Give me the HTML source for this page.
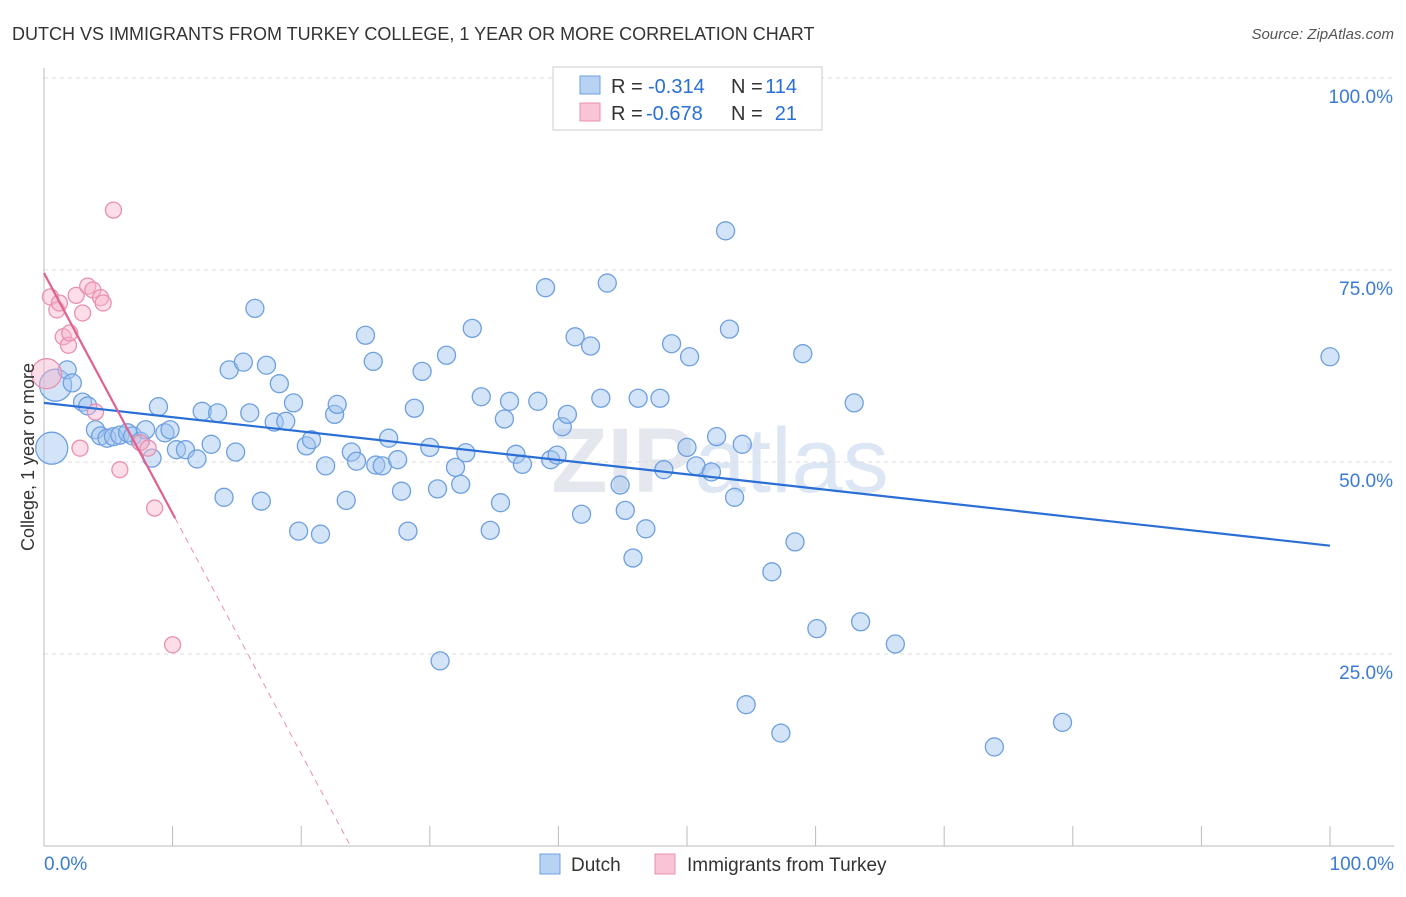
<!DOCTYPE html>
<html><head><meta charset="utf-8">
<style>
body{margin:0;background:#fff;font-family:"Liberation Sans",sans-serif;}
svg text{font-family:"Liberation Sans",sans-serif;}
</style></head>
<body>
<svg id="c" width="1406" height="892" viewBox="0 0 1406 892">
<text x="12" y="40" font-size="18" fill="#333">DUTCH VS IMMIGRANTS FROM TURKEY COLLEGE, 1 YEAR OR MORE CORRELATION CHART</text>
<text x="1394" y="39" font-size="15" fill="#555" font-style="italic" text-anchor="end">Source: ZipAtlas.com</text>
<text x="720" y="492" font-size="92" fill="#e4e8ee" text-anchor="middle" font-weight="bold">ZIP<tspan font-weight="normal" fill="#dce6f4">atlas</tspan></text>
<g id="grid"></g>
<g id="axes"></g>
<g id="marks"></g>
<text transform="translate(34,457) rotate(-90)" font-size="18" fill="#333" text-anchor="middle">College, 1 year or more</text>
<g>
<rect x="553" y="67" width="269" height="63" fill="#fff" stroke="#ccc"/>
<rect x="580" y="76" width="20" height="18" fill="#b8d2f4" stroke="#6ea0e0"/>
<rect x="580" y="103" width="20" height="18" fill="#f8c4d6" stroke="#e890b0"/>
<text x="611" y="93" font-size="20" fill="#333">R =</text>
<text x="648" y="93" font-size="20" fill="#2a6fd6">-0.314</text>
<text x="731" y="93" font-size="20" fill="#333">N =</text>
<text x="797" y="93" font-size="20" fill="#2a6fd6" text-anchor="end">114</text>
<text x="611" y="120" font-size="20" fill="#333">R =</text>
<text x="646" y="120" font-size="20" fill="#2a6fd6">-0.678</text>
<text x="731" y="120" font-size="20" fill="#333">N =</text>
<text x="797" y="120" font-size="20" fill="#2a6fd6" text-anchor="end">21</text>
</g>
<g>
<rect x="540" y="854" width="20" height="20" fill="#b8d2f4" stroke="#6ea0e0"/>
<text x="571" y="871" font-size="19" fill="#333">Dutch</text>
<rect x="655" y="854" width="20" height="20" fill="#f8c4d6" stroke="#e890b0"/>
<text x="687" y="871" font-size="19" fill="#333">Immigrants from Turkey</text>
</g>
</svg>
<script>
const yTicks=[25,50,75,100];
const yTickLabels=["25.0%","50.0%","75.0%","100.0%"];
const xTicks=[0,10,20,30,40,50,60,70,80,90,100];
const xTickLabels=["0.0%","100.0%"];
const dutchX=[0.6,0.9,1.8,2.2,3.0,3.4,4.0,4.4,4.9,5.4,5.9,6.5,6.9,7.5,7.9,8.4,8.9,9.4,9.8,10.3,11.0,11.9,12.3,13.0,13.5,14.0,14.4,14.9,15.5,16.0,16.4,16.9,17.3,17.9,18.3,18.8,19.4,19.8,20.4,20.8,21.5,21.9,22.6,22.8,23.5,23.9,24.3,25.0,25.6,25.8,26.3,26.8,27.5,27.8,28.3,28.8,29.4,30.0,30.6,30.8,31.3,32.0,32.4,32.8,33.3,34.0,34.7,35.5,35.8,36.2,36.7,37.2,38.4,39.0,39.4,39.9,40.3,40.7,41.3,41.8,42.5,43.3,43.8,44.8,45.2,45.8,46.2,46.8,47.9,48.2,48.8,50.0,50.2,50.7,51.9,52.3,53.0,53.3,53.7,54.3,54.6,56.6,57.3,58.4,59.0,60.1,63.0,63.5,66.2,73.9,79.2,100];
const dutchY=[51.8,60.0,62.0,60.3,57.8,57.3,54.2,53.4,53.1,53.3,53.5,53.8,53.4,52.7,54.2,50.5,57.2,53.8,54.2,51.6,51.6,50.4,56.6,52.3,56.4,45.4,62.0,51.3,63.0,56.4,70.0,44.9,62.6,55.2,60.2,55.3,57.7,41.0,52.1,52.9,40.6,49.5,56.2,57.5,45.0,51.3,50.1,66.5,63.1,49.6,49.5,53.1,50.3,46.2,41.0,57.0,61.8,51.9,46.5,24.1,63.9,49.3,47.1,51.2,67.4,58.5,41.1,44.7,55.6,57.9,51.0,49.7,57.9,72.7,50.3,50.9,54.6,56.2,66.3,43.2,65.1,58.3,73.3,47.0,43.7,37.5,58.3,41.3,58.3,49.0,65.4,51.9,63.7,49.5,48.7,53.3,80.1,67.3,45.4,52.3,18.4,35.7,14.7,39.6,64.1,28.3,57.7,29.2,26.3,12.9,16.1,63.7];
const turkeyX=[0.2,0.5,1.0,1.2,1.5,1.9,2.0,2.5,2.8,3.0,3.4,3.8,4.0,4.4,4.6,5.4,5.9,7.5,8.1,8.6,10.0];
const turkeyY=[61.5,71.5,69.8,70.7,66.3,65.2,66.8,71.7,51.8,69.4,72.9,72.4,56.5,71.4,70.7,82.8,49.0,52.5,51.8,44.0,26.2];
const dutchTrend=[57.7,39.1];
const turkeyTrend=[74.6,-3.13];
const X=v=>44+v*12.86, Y=v=>846-v*7.68;
const NS="http://www.w3.org/2000/svg";
function mk(tag,at,parent){const e=document.createElementNS(NS,tag);for(const k in at)e.setAttribute(k,at[k]);document.getElementById(parent).appendChild(e);return e;}
yTicks.forEach((t,i)=>{
 const g=mk('line',{x1:44,x2:1394,y1:Y(t),y2:Y(t),stroke:'#ddd','stroke-dasharray':'4,4'},'grid');
 
 
 const l=mk('text',{x:1393,y:Y(t)+25,'font-size':19,fill:'#3a7bd5','text-anchor':'end'},'axes');
 l.textContent=yTickLabels[i];
 
 
});
const ax=mk('line',{x1:44,x2:1394,y1:846,y2:846,stroke:'#bbb'},'axes');


const ay=mk('line',{x1:44,x2:44,y1:68,y2:846,stroke:'#bbb'},'axes');


xTicks.forEach(t=>{const k=mk('line',{x1:X(t),x2:X(t),y1:826,y2:846,stroke:'#bbb'},'axes');
 
 });
[[0,44,'start'],[1,1394,'end']].forEach(([i,x,a])=>{const l=mk('text',{x:x,y:870,'font-size':19,fill:'#3a7bd5','text-anchor':a},'axes');l.textContent=xTickLabels[i];
 
 });
dutchX.forEach((x,i)=>{const r=i<2?16:9;
 const c=mk('circle',{cx:X(x),cy:Y(dutchY[i]),r:r,fill:'rgba(160,196,240,0.45)',stroke:'#6ea0e0','stroke-width':1.3},'marks');
 
 });
turkeyX.forEach((x,i)=>{const r=i==0?15:8;
 const c=mk('circle',{cx:X(x),cy:Y(turkeyY[i]),r:r,fill:'rgba(248,180,205,0.45)',stroke:'#e890b0','stroke-width':1.3},'marks');
 
 });
const bl=mk('line',{x1:X(0),y1:Y(dutchTrend[0]),x2:X(100),y2:Y(dutchTrend[1]),stroke:'#2a6fd6','stroke-width':2.2},'marks');


const tEnd=10.2, tZero=-turkeyTrend[0]/turkeyTrend[1];
const pl=mk('line',{x1:X(0),y1:Y(turkeyTrend[0]),x2:X(tEnd),y2:Y(turkeyTrend[0]+turkeyTrend[1]*tEnd),stroke:'#e0608e','stroke-width':2.2},'marks');


const pd=mk('line',{x1:X(tEnd),y1:Y(turkeyTrend[0]+turkeyTrend[1]*tEnd),x2:X(tZero),y2:Y(0),stroke:'#e890b0','stroke-width':1,'stroke-dasharray':'6,5'},'marks');


</script>
</body></html>
